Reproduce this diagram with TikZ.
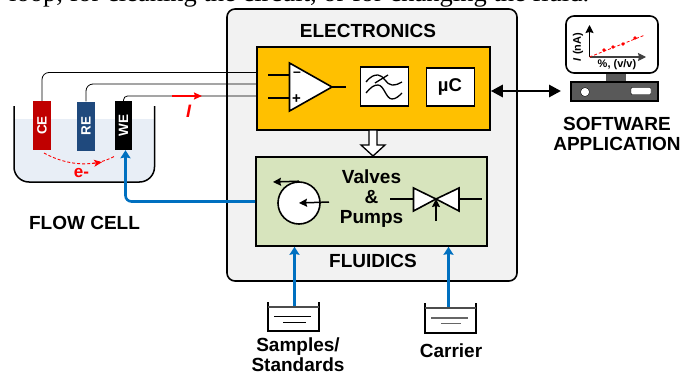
\documentclass[tikz,border=0pt]{standalone}
\usepackage{fontspec}
\setmainfont{Liberation Sans}
\newfontfamily\serifline{Liberation Serif}
\usepackage{tikz}
\usetikzlibrary{arrows.meta}
\definecolor{panelgray}{HTML}{F2F2F2}
\definecolor{elecyellow}{HTML}{FFC000}
\definecolor{fluidgreen}{HTML}{D7E4BD}
\definecolor{waterblue}{HTML}{E8EEF6}
\definecolor{pipeblue}{HTML}{0070C0}
\definecolor{cered}{HTML}{C00000}
\definecolor{renavy}{HTML}{1F497D}
\definecolor{pcgray}{HTML}{595959}
\tikzset{
	title/.style={font=\fontsize{19}{20}\selectfont\bfseries,align=center,inner sep=0pt},
	block/.style={draw,line width=1.6pt,inner sep=0pt},
	electrode/.style={inner sep=0pt,minimum width=18,minimum height=49,text=white,font=\fontsize{13.5}{13.5}\selectfont\bfseries},
	wire/.style={line width=0.8pt,rounded corners=7},
	pipe/.style={-{Stealth[length=8,width=10,inset=1]},draw=pipeblue,line width=2.6pt},
	sym/.style={line width=1.3pt},
	tank/.style={line width=1.3pt},
	pointer/.style={-{Stealth[length=8,width=8,inset=1]},line width=1.5pt},
}
\begin{document}
\begin{tikzpicture}[x=1pt,y=-1pt]
	\useasboundingbox (0,0) rectangle (681,372);
	\node[anchor=base west,inner sep=0pt,font=\serifline\fontsize{26.5}{26.5}\selectfont] (topline) at (9,1.5) {loop, for cleaning the circuit, or for changing the fluid.};

	\node[block,fill=panelgray,rounded corners=8,minimum width=290,minimum height=272] (panel) at (372,145) {};
	\node[block,fill=elecyellow,minimum width=233,minimum height=83] (electronics) at (373.5,88.5) {};
	\node[block,fill=fluidgreen,minimum width=231,minimum height=89] (fluidics) at (371.5,201.5) {};
	\node[title] (electronicslabel) at (368,31) {ELECTRONICS};
	\node[title] (fluidicslabel) at (373,261) {FLUIDICS};

	\coordinate (opa) at (289.5,63);
	\coordinate (opb) at (289.5,111);
	\coordinate (opc) at (332,87);
	\draw[sym] (268,75)--(289.5,75);
	\draw[sym] (268,98)--(289.5,98);
	\draw[sym] (opc)--(346,87);
	\draw[line width=1.6pt,fill=white] (opa)--(opb)--(opc)--cycle;
	\node[inner sep=0pt,font=\fontsize{14}{14}\selectfont\bfseries] (minus) at (297,74.5) {--};
	\node[inner sep=0pt,font=\fontsize{15}{15}\selectfont\bfseries] (plus) at (296.5,99) {+};

	\node[block,fill=white,minimum width=48,minimum height=39] (filter) at (384.5,86.5) {};
	\node[block,fill=white,minimum width=48,minimum height=38] (mcu) at (450.5,87) {};
	\node[font=\fontsize{18.5}{18.5}\selectfont\bfseries,inner sep=0pt] (mculabel) at (450,87) {µC};
	\draw[sym] (366,82) .. controls (371,76) and (374,75) .. (378,75) .. controls (384,75) and (386,85) .. (392,85) .. controls (396,85) and (399,84) .. (402,82);
	\draw[sym] (366,93) .. controls (371,87) and (374,85) .. (378,85) .. controls (384,85) and (386,99) .. (392,99) .. controls (396,99) and (399,96) .. (402,93);
	\draw[sym] (375,83)--(388,75);

	\draw[line width=1.3pt,fill=white] (369,130)--(377,130)--(377,145)--(385,145)--(373,156)--(361,145)--(369,145)--cycle;

	\node[circle,draw,line width=1.6pt,fill=white,minimum size=42,inner sep=0pt] (pump) at (299,203) {};
	\draw[pointer] (329,202)--(pump.center);
	\draw[pointer] (pump.north)--(273,182);
	\node[font=\fontsize{19}{20}\selectfont\bfseries,align=center,inner sep=0pt] (valves) at (371.5,198.5) {Valves\\\&\\Pumps};
	\coordinate (vmid) at (436,199);
	\draw[sym] (390,199)--(413.5,199);
	\draw[sym] (459,199)--(482,199);
	\draw[line width=1.6pt,fill=white] (413.5,188)--(413.5,211)--(vmid)--(459,188)--(459,211)--(vmid)--cycle;
	\draw[pointer] (436,221)--(vmid);

	\fill[waterblue] (14,119) [rounded corners=15] -- (14,182) -- (154.5,182) [sharp corners] -- (154.5,119) -- cycle;
	\draw[line width=1.5pt,rounded corners=15] (14,106) -- (14,182) -- (154.5,182) -- (154.5,106);
	\node[electrode,fill=cered] (ce) at (42,125.5) {\rotatebox{90}{CE}};
	\node[electrode,fill=renavy] (re) at (86,126) {\rotatebox{90}{RE}};
	\node[electrode,fill=black,minimum width=17] (we) at (123.5,125.5) {\rotatebox{90}{WE}};
	\node[title] (flowcell) at (84.5,223) {FLOW CELL};

	\coordinate (cein) at (257,72.5);
	\coordinate (rein) at (257,84);
	\coordinate (wein) at (257,96);
	\draw[wire] (ce.north) |- (cein);
	\draw[wire] (re.north) |- (rein);
	\draw[wire,rounded corners=4] (we.north) |- (wein);
	\draw[-{Stealth[length=8,width=7,inset=1]},red,line width=1.6pt] (172,96)--(202,96);
	\node[red,font=\fontsize{18}{18}\selectfont\bfseries\itshape,inner sep=0pt] (current) at (188.5,111) {I};
	\coordinate (ecea) at (44,153);
	\coordinate (ewe) at (115,156);
	\draw[red,densely dashed,line width=0.9pt] (ecea) .. controls (62,163) and (90,170) .. (ewe);
	\draw[-{Stealth[length=8,width=7,inset=2]},red,line width=0.9pt] (92,163.5)--(102,162.2);
	\node[red,font=\fontsize{17}{17}\selectfont\bfseries,inner sep=0pt] (electron) at (81.5,173) {e-};

	\coordinate (pumpout) at (fluidics.west |- 0,201.5);
	\coordinate (weport) at ([xshift=2]we.south);
	\draw[pipe,rounded corners=6] (pumpout) -| (weport);

	\coordinate (sampleliq) at (294.5,307);
	\coordinate (carrierliq) at (448.5,309);
	\draw[pipe] (sampleliq)--(sampleliq |- fluidics.south);
	\draw[pipe] (carrierliq)--(carrierliq |- fluidics.south);
	\draw[tank] (268,302)--(268,331)--(319,331)--(319,302);
	\draw[tank,draw=black!70] (268,307)--(319,307);
	\draw[line width=0.9pt] (274,316)--(311,316);
	\draw[line width=0.9pt] (283,322)--(306,322);
	\draw[tank] (425,303)--(425,333)--(476,333)--(476,303);
	\draw[tank,draw=black!70] (425,308)--(476,308);
	\draw[line width=1.2pt,draw=black!60] (431,318)--(468,318);
	\draw[line width=1pt,draw=black!60] (441,323.5)--(461,323.5);
	\node[title] (samples) at (298,354.5) {Samples/\\Standards};
	\node[title] (carrier) at (451,351) {Carrier};

	\fill[pcgray] (606,72)--(626,72)--(626,83)--(606,83)--cycle;
	\node[draw,line width=1.3pt,fill=pcgray,minimum width=87,minimum height=19,inner sep=0pt] (pc) at (614.5,91.5) {};
	\node[circle,draw=black,fill=white,minimum size=9,inner sep=0pt] (pcled) at (585,92) {};
	\node[draw=black,fill=white,rounded corners=1,minimum width=20,minimum height=7,inner sep=0pt] (pcslot) at (641,91) {};
	\node[draw,line width=1.6pt,fill=white,rounded corners=8,minimum width=92,minimum height=57,inner sep=0pt] (monitor) at (612,44.5) {};
	\coordinate (origin) at (589.5,57);
	\draw[pointer,line width=1.2pt] (origin)--(589.5,25);
	\draw[pointer,line width=1.2pt,draw=black!75] (origin)--(646,57);
	\draw[red,densely dashed,line width=0.8pt] (origin)--(645,35);
	\fill[red] (604,50) circle (1.8);
	\fill[red] (613,47) circle (1.8);
	\fill[red] (623,44) circle (1.8);
	\fill[red] (635,38) circle (1.8);
	\node[font=\fontsize{11}{11}\selectfont\bfseries,inner sep=0pt] (xlabel) at (617,65) {\%, (v/v)};
	\node[font=\fontsize{11}{11}\selectfont\bfseries,rotate=90,inner sep=0pt] (ylabel) at (578,47) {\textit{I} (nA)};
	\node[title] (software) at (617,134) {SOFTWARE\\APPLICATION};

	\draw[{Stealth[length=12,width=12,inset=0]}-{Stealth[length=12,width=12,inset=0]},line width=2.8pt] (electronics.east |- 0,91)--(561,91);
\end{tikzpicture}
\end{document}
